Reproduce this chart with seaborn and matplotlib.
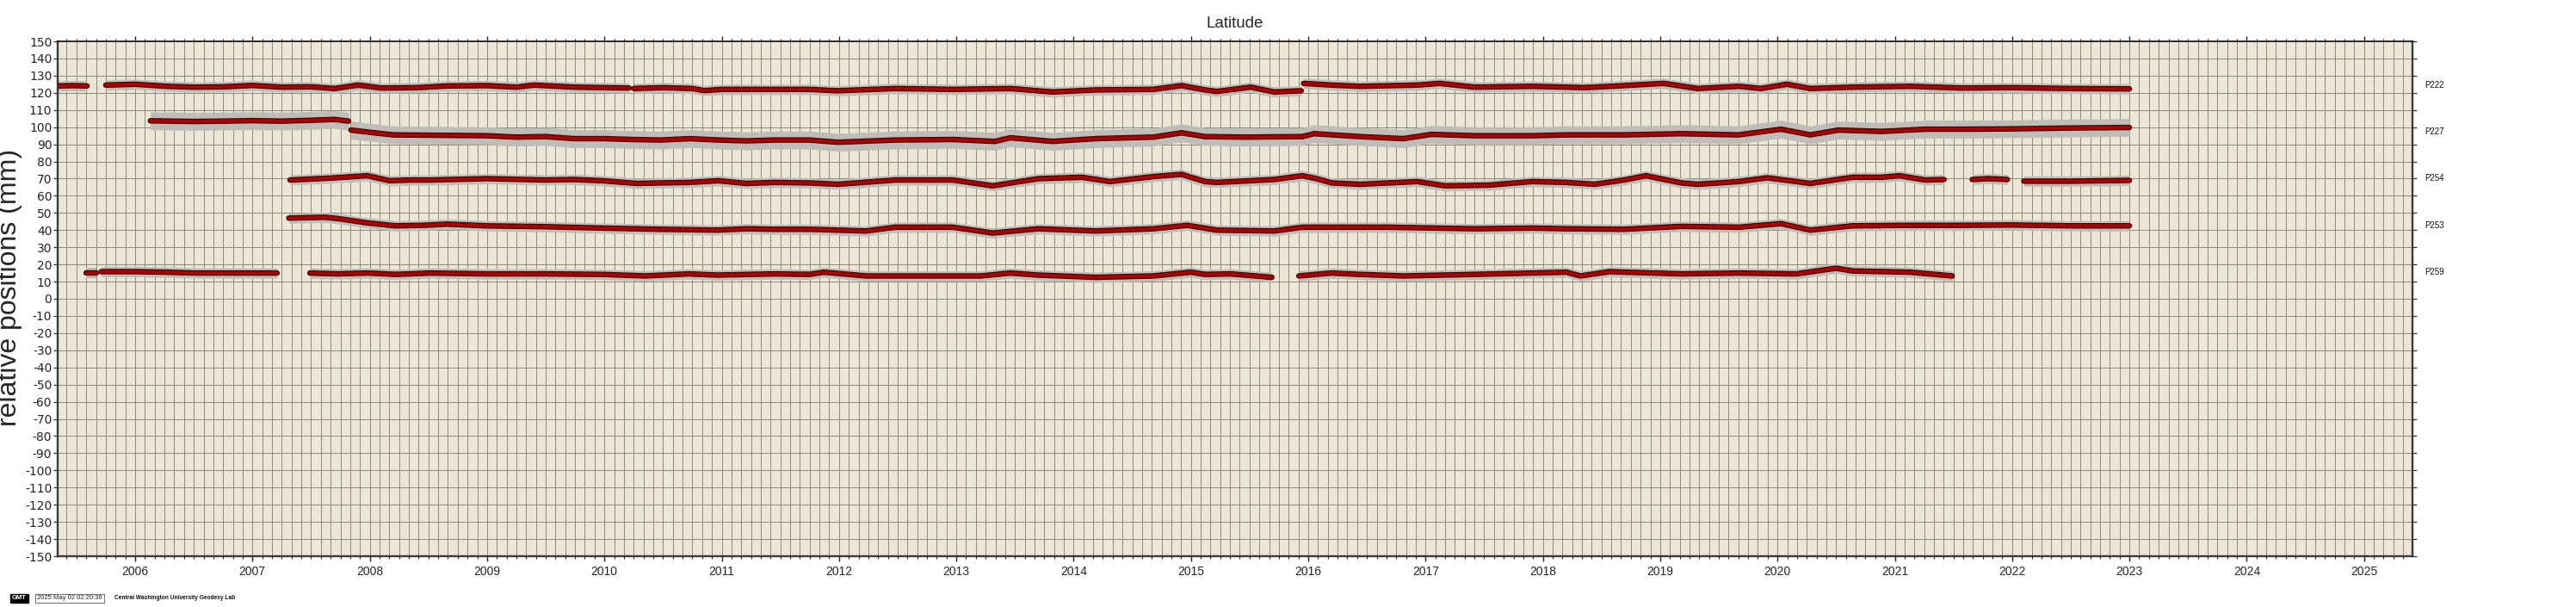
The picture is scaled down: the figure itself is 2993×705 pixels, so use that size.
import numpy as np
import pandas as pd
import seaborn as sns
import matplotlib.pyplot as plt
import matplotlib.patheffects as pe
from matplotlib.ticker import MultipleLocator, FixedLocator

nan = np.nan

# station daily-latitude traces (decimal year, mm); nan = data gap
p222_t = [2005.34, 2005.47, 2005.59, nan,
          2005.75, 2005.90, 2006.00, 2006.27, 2006.50, 2006.75, 2007.00, 2007.25, 2007.50,
          2007.70, 2007.90, 2008.10, 2008.40, 2008.66, 2009.00, 2009.25, 2009.40, 2009.75,
          2010.00, 2010.21, nan,
          2010.25, 2010.50, 2010.75, 2010.85, 2011.00, 2011.25, 2011.50, 2011.75, 2011.98,
          2012.48, 2012.97, 2013.46, 2013.82, 2014.19, 2014.68, 2014.92, 2015.12, 2015.22,
          2015.51, 2015.71, 2015.94, nan,
          2015.96, 2016.20, 2016.44, 2016.93, 2017.12, 2017.42, 2017.90, 2018.20, 2018.35,
          2018.69, 2019.03, 2019.32, 2019.67, 2019.86, 2020.08, 2020.28, 2020.64, 2021.13,
          2021.57, 2022.00, 2022.50, 2023.00]
p222_mm = [124.0, 124.2, 124.0, nan,
           124.5, 124.8, 125.0, 123.8, 123.3, 123.5, 124.3, 123.3, 123.5,
           122.5, 124.5, 122.8, 123.0, 124.0, 124.2, 123.3, 124.5, 123.3,
           123.0, 122.8, nan,
           122.5, 123.0, 122.5, 121.3, 122.0, 122.0, 122.0, 122.0, 121.2,
           122.5, 122.0, 122.5, 120.5, 121.7, 122.0, 124.2, 121.7, 120.8,
           123.3, 120.5, 121.2, nan,
           125.5, 124.5, 123.8, 124.5, 125.5, 123.3, 123.8, 123.3, 123.0,
           124.2, 125.5, 122.5, 123.8, 122.5, 125.0, 122.5, 123.3, 123.8,
           122.8, 123.0, 122.5, 122.3]

p227_t = [2006.13, 2006.50, 2006.75, 2007.00, 2007.25, 2007.50, 2007.70, 2007.82, nan,
          2007.84, 2008.00, 2008.20, 2008.52, 2009.00, 2009.25, 2009.50, 2009.74, 2010.00,
          2010.24, 2010.48, 2010.73, 2010.97, 2011.21, 2011.45, 2011.75, 2011.99, 2012.48,
          2012.97, 2013.33, 2013.46, 2013.82, 2014.19, 2014.68, 2014.92, 2015.12, 2015.46,
          2015.95, 2016.05, 2016.44, 2016.81, 2017.05, 2017.42, 2017.91, 2018.20, 2018.69,
          2019.18, 2019.67, 2020.03, 2020.28, 2020.52, 2020.89, 2021.26, 2021.57, 2022.00,
          2022.50, 2023.00]
p227_mm = [103.7, 103.3, 103.5, 103.8, 103.5, 104.0, 104.5, 103.5, nan,
           98.3, 97.0, 95.5, 95.3, 95.0, 94.2, 94.5, 93.3, 93.3,
           92.8, 92.5, 93.3, 92.5, 92.0, 92.5, 92.5, 91.2, 92.5,
           92.8, 91.7, 93.8, 91.7, 93.3, 94.2, 96.7, 94.5, 94.2,
           94.5, 96.2, 94.5, 93.3, 95.8, 95.0, 95.0, 95.5, 95.5,
           96.2, 95.5, 98.8, 95.5, 98.3, 97.5, 98.8, 98.8, 99.0,
           99.5, 99.8]

p254_t = [2007.32, 2007.66, 2007.98, 2008.17, 2008.35, 2008.52, 2009.00, 2009.50, 2009.74,
          2009.98, 2010.28, 2010.48, 2010.73, 2010.97, 2011.21, 2011.45, 2011.75, 2011.99,
          2012.48, 2012.97, 2013.31, 2013.70, 2014.07, 2014.31, 2014.68, 2014.92, 2015.12,
          2015.22, 2015.71, 2015.95, 2016.07, 2016.20, 2016.44, 2016.93, 2017.17, 2017.54,
          2017.91, 2018.20, 2018.44, 2018.69, 2018.88, 2019.18, 2019.32, 2019.67, 2019.91,
          2020.16, 2020.28, 2020.64, 2020.89, 2021.04, 2021.26, 2021.42, nan,
          2021.66, 2021.80, 2021.96, nan,
          2022.10, 2022.50, 2023.00]
p254_mm = [69.2, 70.3, 71.7, 68.8, 69.2, 69.2, 70.0, 69.2, 69.5,
           68.8, 67.2, 67.5, 67.8, 68.8, 67.2, 67.8, 67.5, 66.7,
           69.2, 69.2, 65.8, 70.0, 70.8, 68.3, 71.2, 72.5, 68.3,
           67.8, 69.5, 71.7, 70.0, 67.5, 66.7, 68.3, 65.8, 66.2,
           68.3, 67.8, 66.7, 69.2, 71.7, 67.5, 66.7, 68.3, 70.5,
           68.3, 67.2, 70.8, 70.8, 71.7, 69.2, 69.5, nan,
           69.5, 70.0, 69.5, nan,
           68.5, 68.5, 69.0]

p253_t = [2007.31, 2007.62, 2007.73, 2007.98, 2008.22, 2008.46, 2008.66, 2009.00, 2009.50,
          2009.98, 2010.47, 2010.96, 2011.21, 2011.45, 2011.75, 2012.23, 2012.48, 2012.97,
          2013.31, 2013.70, 2014.19, 2014.68, 2014.97, 2015.22, 2015.71, 2015.95, 2016.68,
          2017.42, 2017.91, 2018.20, 2018.69, 2019.18, 2019.67, 2020.03, 2020.28, 2020.64,
          2021.13, 2021.57, 2022.00, 2022.50, 2023.00]
p253_mm = [47.0, 47.5, 46.7, 44.2, 42.5, 42.8, 43.5, 42.5, 42.0,
           41.2, 40.5, 40.0, 40.8, 40.5, 40.5, 39.5, 41.7, 41.7,
           38.3, 40.8, 39.5, 40.8, 42.8, 40.0, 39.5, 41.7, 41.7,
           40.8, 41.2, 40.8, 40.5, 42.2, 41.7, 43.8, 40.0, 42.5,
           42.8, 42.8, 43.0, 42.5, 42.5]

p259_t = [2005.58, 2005.67, nan,
          2005.71, 2006.00, 2006.27, 2006.51, 2006.76, 2007.00, 2007.21, nan,
          2007.49, 2007.73, 2007.98, 2008.22, 2008.52, 2009.00, 2009.50, 2009.98, 2010.35,
          2010.72, 2010.96, 2011.45, 2011.75, 2011.87, 2012.23, 2012.72, 2013.21, 2013.46,
          2013.70, 2014.19, 2014.68, 2015.00, 2015.12, 2015.34, 2015.69, nan,
          2015.92, 2016.20, 2016.44, 2016.81, 2017.42, 2017.91, 2018.20, 2018.32, 2018.57,
          2019.18, 2019.67, 2020.16, 2020.50, 2020.64, 2021.13, 2021.49]
p259_mm = [15.0, 15.0, nan,
           15.8, 15.8, 15.5, 15.0, 15.0, 15.0, 15.0, nan,
           15.0, 14.5, 15.0, 14.2, 15.0, 14.5, 14.5, 14.2, 13.3,
           14.5, 13.8, 14.5, 14.2, 15.5, 13.3, 13.3, 13.3, 15.0,
           13.8, 12.5, 13.3, 15.5, 14.2, 14.5, 12.5, nan,
           13.3, 15.0, 14.2, 13.3, 14.2, 15.0, 15.5, 13.3, 15.8,
           14.5, 15.0, 14.5, 17.8, 16.2, 15.5, 13.3]

stations = ["P222", "P227", "P254", "P253", "P259"]
times = [p222_t, p227_t, p254_t, p253_t, p259_t]
values = [p222_mm, p227_mm, p254_mm, p253_mm, p259_mm]
sigma_mm = [3.0, 5.2, 3.0, 3.0, 3.0]          # half-width of the grey error bars
label_mm = [124.5, 97.4, 70.3, 42.7, 15.6]     # right-hand station labels

years = list(range(2006, 2026))

# long table, one segment id per continuous piece
rows = []
for st, t, v, s in zip(stations, times, values, sigma_mm):
    seg = 0
    for ti, vi in zip(t, v):
        if np.isnan(ti):
            seg += 1
            continue
        rows.append((st, f"{st}_{seg}", ti, vi, s))
df = pd.DataFrame(rows, columns=["station", "seg", "year", "mm", "sigma"])

sns.set_style("ticks")
plt.rcParams["font.family"] = ["Liberation Sans", "DejaVu Sans"]
plt.rcParams["axes.unicode_minus"] = False

fig = plt.figure(figsize=(29.93, 7.05), dpi=100)
ax = fig.add_axes([67 / 2993, 59 / 705, 2736 / 2993, 598 / 705])
ax.set_facecolor("#ebe6d5")

ax.set_xlim(2005.3397, 2025.413)
ax.set_ylim(-150, 150)

ax.xaxis.set_major_locator(FixedLocator(years))
ax.xaxis.set_minor_locator(FixedLocator([y + m / 12 for y in range(2005, 2026) for m in range(12)]))
ax.yaxis.set_major_locator(MultipleLocator(10))
ax.grid(which="both", axis="x", color="#8c897d", lw=0.7)
ax.grid(which="major", axis="y", color="#8c897d", lw=0.7)
ax.set_axisbelow(True)

# grey error bands, then the dark red daily positions
for seg, g in df.groupby("seg"):
    ax.fill_between(g["year"], g["mm"] - g["sigma"], g["mm"] + g["sigma"],
                    color="#bebdb8", lw=0, zorder=2)

sns.lineplot(data=df, x="year", y="mm", units="seg", estimator=None, sort=False,
             color="#8a0606", lw=3.4, ax=ax, zorder=3,
             path_effects=[pe.Stroke(linewidth=4.6, foreground="#400000"), pe.Normal()])
sns.lineplot(data=df, x="year", y="mm", units="seg", estimator=None, sort=False,
             color="#b80000", lw=1.2, ax=ax, zorder=4)

ax.set_xlabel("")
ax.set_ylabel("")
ax.set_xticklabels([str(y) for y in years])
ax.set_yticklabels([f"{int(v)}" for v in ax.get_yticks()])

ax.tick_params(axis="x", which="major", top=True, bottom=True, direction="out",
               length=4.5, width=1.0, labelsize=10, pad=3.5, color="#222222")
ax.tick_params(axis="x", which="minor", top=True, bottom=True, direction="out",
               length=2.2, width=0.8, color="#222222")
ax.tick_params(axis="y", which="major", left=True, right=True, direction="out",
               length=3.8, width=0.9, labelsize=10, pad=1, color="#333333")
for lab in ax.get_yticklabels():
    lab.set_fontfamily("DejaVu Sans")
    lab.set_color("#222222")

for side in ["left", "right", "bottom"]:
    ax.spines[side].set_linewidth(1.7)
    ax.spines[side].set_color("#3a3a3a")
ax.spines["top"].set_linewidth(1.2)
ax.spines["top"].set_color("#111111")

for st, y in zip(stations, label_mm):
    ax.text(1.0051, y, st, transform=ax.get_yaxis_transform(), fontsize=7,
            va="center", ha="left", color="#111111")

fig.text(1435 / 2993, 1 - 28 / 705, "Latitude", fontsize=13.5, ha="center", va="center")
fig.text(11 / 2993, 1 - 334 / 705, "relative positions (mm)", fontsize=23,
         rotation=90, ha="center", va="center")

# GMT time stamp
fig.text(14 / 2993, 10 / 705, "GMT", fontsize=5.5, color="white", weight="bold",
         va="center", ha="left",
         bbox=dict(facecolor="black", edgecolor="black", boxstyle="square,pad=0.25"))
fig.text(43 / 2993, 10 / 705, "2025 May 02 02:20:36", fontsize=5.5, color="#222222",
         va="center", ha="left",
         bbox=dict(facecolor="white", edgecolor="#555555", lw=0.6, boxstyle="square,pad=0.25"))
fig.text(133 / 2993, 10 / 705, "Central Washington University Geodesy Lab", fontsize=4.8,
         weight="bold", color="#111111", va="center", ha="left")

fig.savefig("out.png", dpi=100)
